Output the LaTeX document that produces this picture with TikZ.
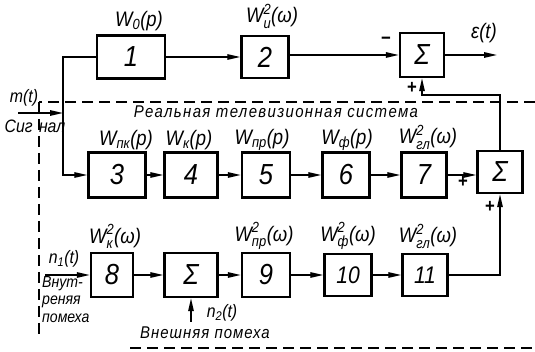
\documentclass[tikz,border=0pt]{standalone}
\usepackage{fontspec}
\usepackage{amsmath}
\setmainfont{Liberation Sans}[FakeStretch=0.88]
\usetikzlibrary{arrows.meta}

% transfer-function labels: W with subscript, or with square and subscript
\newcommand\Wsb[2]{\ensuremath{\text{W}_{\text{#1}}\text{#2}}}
\newcommand\Wsq[1]{\ensuremath{\text{W}^{\text{2}}_{\text{#1}}\text{(ω)}}}

\begin{document}
\begin{tikzpicture}[x=1pt,y=-1pt,
  blk/.style={draw, line width=2.5pt, inner sep=0pt,
    font=\itshape\fontsize{29}{29}\selectfont},
  lab/.style={inner sep=0pt, font=\itshape\fontsize{21}{21}\selectfont},
  txt/.style={inner sep=0pt, font=\itshape\fontsize{18}{20}\selectfont},
  sgn/.style={inner sep=0pt, font=\bfseries\fontsize{19}{19}\selectfont},
  ln/.style={line width=1.4pt},
  arr/.style={line width=1.4pt, -{Triangle[length=13pt,width=5.5pt]}},
  bnd/.style={line width=1.3pt, dash pattern=on 11pt off 6pt}]
\useasboundingbox (0,0) rectangle (535,352);

% system boundary
\draw[bnd] (535,102) -- (39,102);
\draw[bnd] (39,102) -- (39,340);
\draw[bnd] (130,348) -- (535,348);

% ideal channel
\node[blk, minimum width=68, minimum height=43] (b1) at (131,57) {1};
\node[blk, minimum width=47, minimum height=42] (b2) at (265,57) {2};
\node[blk, minimum width=44, minimum height=44] (s1) at (422,55) {Σ};

% real television system, signal path
\node[blk, minimum width=57, minimum height=45] (b3) at (117,175) {3};
\node[blk, minimum width=53, minimum height=45] (b4) at (191,175) {4};
\node[blk, minimum width=48, minimum height=45] (b5) at (266,175) {5};
\node[blk, minimum width=47, minimum height=45] (b6) at (346,175) {6};
\node[blk, minimum width=45, minimum height=45] (b7) at (424,175) {7};
\node[blk, minimum width=45, minimum height=42] (s2) at (500,172) {Σ};

% noise path
\node[blk, minimum width=42, minimum height=44] (b8) at (112,275) {8};
\node[blk, minimum width=53, minimum height=44] (s3) at (191,275) {Σ};
\node[blk, minimum width=48, minimum height=44] (b9) at (266,275) {9};
\node[blk, minimum width=47, minimum height=42, font=\itshape\fontsize{24}{24}\selectfont] (b10) at (348,275) {10};
\node[blk, minimum width=45, minimum height=42, font=\itshape\fontsize{24}{24}\selectfont] (b11) at (425,275) {11};

% labels
\node[lab] (l1) at (139,21) {\Wsb{0}{(p)}};
\node[lab] (l2) at (272,16) {\Wsq{и}};
\node[lab] (eps) at (484,33) {ε(t)};
\node[sgn] (mn) at (386,41) {−};
\node[sgn] (p1) at (412,88) {+};
\node[txt] (m) at (24,98) {m(t)};
\node[txt] (sig) at (35,126) {Сиг\hspace{0.35em}нал};
\node[txt, font=\itshape\fontsize{17}{19}\selectfont\addfontfeature{LetterSpace=8}] (sys) at (276,112) {Реальная телевизионная система};

\node[lab] (l3) at (126,140) {\Wsb{пк}{(p)}};
\node[lab] (l4) at (189,140) {\Wsb{к}{(p)}};
\node[lab] (l5) at (262,140) {\Wsb{пр}{(p)}};
\node[lab] (l6) at (347,140) {\Wsb{ф}{(p)}};
\node[lab] (l7) at (428,137) {\Wsq{гл}};
\node[sgn] (p2) at (463,182) {+};
\node[sgn] (p3) at (490,207) {+};

\node[lab] (l8) at (115,236) {\Wsq{к}};
\node[lab] (l9) at (264,236) {\Wsq{пр}};
\node[lab] (l10) at (348,236) {\Wsq{ф}};
\node[lab] (l11) at (428,236) {\Wsq{гл}};
\node[txt] (n1) at (64,259) {n\textsubscript{1}(t)};
\node[txt, anchor=north west, align=left, font=\itshape\fontsize{16}{17.5}\selectfont] (vn) at (42,276) {Внут-\\реняя\\помеха};
\node[txt] (n2) at (222,313) {n\textsubscript{2}(t)};
\node[txt, font=\itshape\fontsize{17}{19}\selectfont\addfontfeature{LetterSpace=6}] (ex) at (205,333) {Внешняя помеха};

% connectors
\coordinate (mi) at (18,113);
\coordinate (sp) at (63,113);
\coordinate (fb) at (460,95);
\coordinate (eo) at (497,55);
\coordinate (n1s) at (45,275);
\coordinate (n2s) at (191,322);

\draw[arr] (mi) -- (sp);
\draw[ln] (b1.west) -| (sp);
\draw[arr] (sp) |- (b3.west);
\draw[arr] (b1) -- (b2);
\draw[arr] (b2.east |- s1.west) -- (s1.west);
\draw[arr] (s1.east) -- (eo);

\draw[arr] (b3) -- (b4);
\draw[arr] (b4) -- (b5);
\draw[arr] (b5) -- (b6);
\draw[arr] (b6) -- (b7);
\draw[arr] (b7.east) -- (b7.east -| s2.west);
\draw[arr] (s2.north) -- (s2.north |- fb) -| (s1.south);

\draw[arr] (n1s) -- (b8.west);
\draw[arr] (b8) -- (s3);
\draw[arr] (s3) -- (b9);
\draw[arr] (b9) -- (b10);
\draw[arr] (b10) -- (b11);
\draw[arr] (b11.east) -| (s2.south);
\draw[arr] (n2s) -- (s3.south);
\end{tikzpicture}
\end{document}
